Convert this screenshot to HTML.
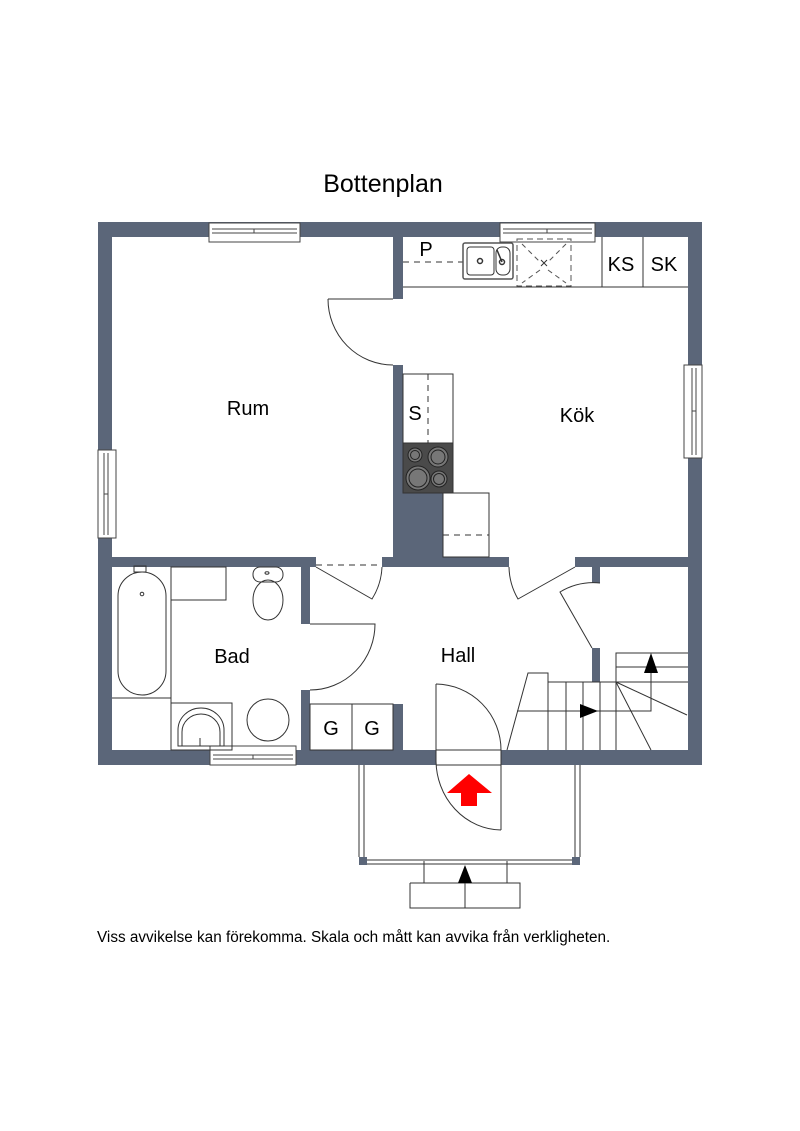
<!DOCTYPE html>
<html><head><meta charset="utf-8"><style>
html,body{margin:0;padding:0;background:#fff;}
svg{display:block;}
text{font-family:"Liberation Sans",sans-serif;fill:#000;}
</style></head><body>
<svg width="800" height="1131" viewBox="0 0 800 1131" xmlns="http://www.w3.org/2000/svg">
<rect width="800" height="1131" fill="#fff"/>
<text x="383" y="192" font-size="25" text-anchor="middle">Bottenplan</text>

<g fill="#5b6679">
<rect x="98" y="222" width="604" height="15"/>
<rect x="98" y="222" width="14" height="543"/>
<rect x="688" y="222" width="14" height="543"/>
<rect x="98" y="750" width="338" height="15"/>
<rect x="501" y="750" width="201" height="15"/>
<rect x="393" y="237" width="10" height="62"/>
<rect x="393" y="365" width="10" height="200"/>
<rect x="393" y="493" width="50" height="70"/>
<rect x="98" y="557" width="218" height="10"/>
<rect x="382" y="557" width="127" height="10"/>
<rect x="575" y="557" width="127" height="10"/>
<rect x="301" y="567" width="9" height="57"/>
<rect x="301" y="690" width="9" height="60"/>
<rect x="393" y="704" width="10" height="46"/>
<rect x="592" y="565" width="8" height="18"/>
<rect x="592" y="648" width="8" height="34"/>
<rect x="359" y="857" width="8" height="8"/>
<rect x="572" y="857" width="8" height="8"/>
</g>

<g fill="#fff" stroke="#444" stroke-width="1">
<rect x="209" y="223" width="91" height="19"/>
<rect x="500" y="223" width="95" height="19"/>
<rect x="98" y="450" width="18" height="88"/>
<rect x="684" y="365" width="18" height="93"/>
<rect x="210" y="746" width="86" height="19"/>
</g>
<g stroke="#444" stroke-width="1" fill="none">
<path d="M212,229H297M212,233H297M254,229V233"/>
<path d="M503,229H592M503,233H592M547,229V233"/>
<path d="M104,453V535M108,453V535M104,494H108"/>
<path d="M692,368V455M696,368V455M692,411H696"/>
<path d="M213,755H293M213,759H293M253,755V759"/>
</g>

<g stroke="#333" stroke-width="1" fill="none">
<path d="M403,287H688M602,237V287M643,237V287"/>
<path d="M403,262H463" stroke-dasharray="6,5"/>
<rect x="517" y="239" width="54" height="47" stroke-dasharray="6,4" stroke="#555"/>
<path d="M522,244L540,262M548,270L566,283M566,244L548,262M540,270L522,283" stroke-dasharray="5,4" stroke="#555"/>
<path d="M541,260L547,266M547,260L541,266"/>
<rect x="463" y="243" width="50" height="36" rx="2" stroke="#555" stroke-width="1.5"/>
<rect x="467" y="247" width="27" height="28" rx="3"/>
<rect x="496" y="247" width="14" height="28" rx="6"/>
<circle cx="480" cy="261" r="2.5" stroke-width="1.5"/>
<circle cx="502" cy="262" r="2.5" stroke-width="1.5"/>
<path d="M497,250L502,262" stroke-width="1.5"/>
<rect x="403" y="374" width="50" height="69"/>
<path d="M428,374V443" stroke-dasharray="6,5"/>
<rect x="443" y="493" width="46" height="64" fill="#fff"/>
<path d="M443,535H489" stroke-dasharray="6,5"/>
<path d="M328,299H393M328,299A65,66 0 0 0 393,365"/>
<path d="M316,565H382" stroke-dasharray="6,5"/>
<path d="M316,567L372,599A65,65 0 0 0 382,567"/>
<path d="M575,567L518,599A66,66 0 0 1 509,567"/>
<path d="M592,648L560,592A65,65 0 0 1 600,583"/>
<path d="M310,624H375A65,66 0 0 1 310,690"/>
<rect x="310" y="704" width="83" height="46"/>
<path d="M352,704V750"/>
<path d="M436,750H501M436,765H501"/>
<path d="M436,684A66,66 0 0 1 501,750V830"/>
<path d="M436,684V760A66,70 0 0 0 501,830"/>
<path d="M359,765V857M364,765V857M575,765V857M580,765V857"/>
<path d="M367,860H572M367,864H572"/>
<path d="M424,861V883H507V861M410,883V908H520V883H507M410,883H424M465,883V908"/>
<rect x="118" y="572" width="48" height="123" rx="24"/>
<path d="M134,566h12v6h-12z"/>
<circle cx="142" cy="594" r="1.8"/>
<path d="M171,567V750M112,698H171"/>
<rect x="171" y="567" width="55" height="33"/>
<rect x="253" y="567" width="30" height="15" rx="7"/>
<ellipse cx="268" cy="600" rx="15" ry="20"/>
<ellipse cx="267" cy="573" rx="2" ry="1.2"/>
<rect x="171" y="703" width="61" height="47"/>
<path d="M178,746V730A23,22 0 0 1 224,730V746Z"/>
<path d="M182,746V732A19,18 0 0 1 220,732V746"/>
<path d="M200,738V746"/>
<ellipse cx="268" cy="720" rx="21" ry="21"/>
<path d="M507,750L528,673H548V682H688"/>
<path d="M548,682V750M566,682V750M583,682V750M600,682V750M616,682V750"/>
<path d="M517,711H651V673"/>
<path d="M616,682V653H688M616,667H688"/>
<path d="M616,682L651,750M616,682L687,715"/>
</g>
<rect x="403" y="443" width="50" height="50" fill="#4a4a4a" stroke="#333"/>
<g fill="#777" stroke="#222" stroke-width="1">
<circle cx="415" cy="455" r="7"/><circle cx="415" cy="455" r="4.5"/>
<circle cx="438" cy="457" r="10"/><circle cx="438" cy="457" r="7"/>
<circle cx="418" cy="478" r="12"/><circle cx="418" cy="478" r="9"/>
<circle cx="439" cy="479" r="8"/><circle cx="439" cy="479" r="5.5"/>
</g>
<polygon points="580,704 598,711 580,718" fill="#000"/>
<polygon points="651,653 644,673 658,673" fill="#000"/>
<polygon points="465,865 458,883 472,883" fill="#000"/>
<polygon points="469,774 447,793 461,793 461,806 477,806 477,793 492,793" fill="#f00"/>

<g font-size="20">
<text x="248" y="415" text-anchor="middle">Rum</text>
<text x="577" y="422" text-anchor="middle">Kök</text>
<text x="232" y="663" text-anchor="middle">Bad</text>
<text x="458" y="662" text-anchor="middle">Hall</text>
<text x="621" y="271" text-anchor="middle">KS</text>
<text x="664" y="271" text-anchor="middle">SK</text>
<text x="426" y="256" text-anchor="middle">P</text>
<text x="415" y="420" text-anchor="middle">S</text>
<text x="331" y="735" text-anchor="middle">G</text>
<text x="372" y="735" text-anchor="middle">G</text>
</g>
<text x="97" y="942" font-size="15.3">Viss avvikelse kan förekomma. Skala och mått kan avvika från verkligheten.</text>
</svg>
</body></html>
